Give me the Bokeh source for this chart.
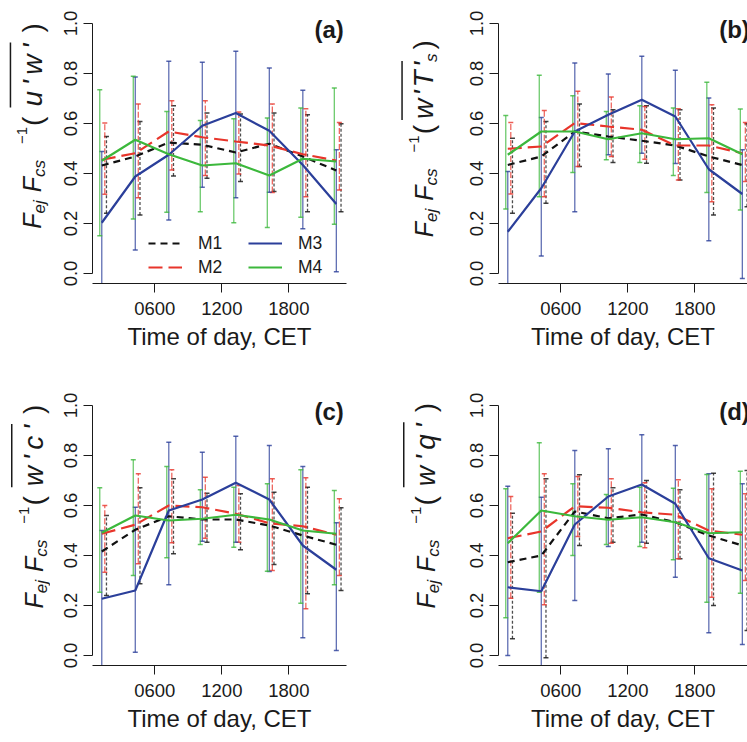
import math
from bokeh.plotting import figure
from bokeh.layouts import gridplot
from bokeh.models import (Label, Legend, LegendItem, BoxAnnotation, FixedTicker,
                          Range1d, ColumnDataSource)
from bokeh.embed import file_html
from bokeh.resources import INLINE

# ---------------- data ----------------
hours = [1.25, 4.25, 7.25, 10.25, 13.25, 16.25, 19.25, 22.25]
x_ticks = [6, 12, 18]
x_tick_labels = ["0600", "1200", "1800"]
y_ticks = [0.0, 0.2, 0.4, 0.6, 0.8, 1.0]
y_tick_labels = ["0.0", "0.2", "0.4", "0.6", "0.8", "1.0"]
model_names = ["M1", "M2", "M3", "M4"]
panel_tags = ["(a)", "(b)", "(c)", "(d)"]
x_title = "Time of day, CET"
flux_names = [("u'w'", None), ("w'T'", "s"), ("w'c'", None), ("w'q'", None)]

a_m1 = [0.432, 0.468, 0.524, 0.515, 0.484, 0.519, 0.468, 0.412]
a_m1_lo = [0.241, 0.234, 0.390, 0.381, 0.368, 0.328, 0.247, 0.247]
a_m1_hi = [0.548, 0.608, 0.671, 0.642, 0.638, 0.642, 0.635, 0.599]
a_m2 = [0.455, 0.481, 0.568, 0.545, 0.528, 0.512, 0.477, 0.452]
a_m2_lo = [0.317, 0.303, 0.414, 0.392, 0.398, 0.324, 0.307, 0.334]
a_m2_hi = [0.602, 0.678, 0.691, 0.691, 0.646, 0.678, 0.659, 0.604]
a_m3 = [0.203, 0.388, 0.475, 0.591, 0.642, 0.571, 0.434, 0.278]
a_m3_lo = [-0.08, 0.094, 0.214, 0.345, 0.303, 0.325, 0.179, 0.007]
a_m3_hi = [0.488, 0.786, 0.849, 0.845, 0.889, 0.822, 0.733, 0.495]
a_m4 = [0.451, 0.535, 0.477, 0.432, 0.441, 0.392, 0.459, 0.448]
a_m4_lo = [0.151, 0.218, 0.245, 0.247, 0.203, 0.184, 0.225, 0.197]
a_m4_hi = [0.735, 0.789, 0.648, 0.612, 0.619, 0.622, 0.662, 0.742]

b_m1 = [0.434, 0.468, 0.568, 0.548, 0.531, 0.512, 0.468, 0.434]
b_m1_lo = [0.241, 0.281, 0.428, 0.444, 0.441, 0.374, 0.234, 0.267]
b_m1_hi = [0.541, 0.608, 0.678, 0.655, 0.671, 0.655, 0.662, 0.599]
b_m2 = [0.499, 0.508, 0.602, 0.588, 0.575, 0.512, 0.512, 0.481]
b_m2_lo = [0.318, 0.307, 0.428, 0.468, 0.457, 0.374, 0.287, 0.368]
b_m2_hi = [0.604, 0.652, 0.729, 0.706, 0.668, 0.659, 0.675, 0.604]
b_m3 = [0.167, 0.341, 0.568, 0.635, 0.695, 0.628, 0.417, 0.318]
b_m3_lo = [-0.05, 0.070, 0.247, 0.475, 0.481, 0.440, 0.131, -0.02]
b_m3_hi = [0.408, 0.624, 0.842, 0.798, 0.869, 0.813, 0.702, 0.495]
b_m4 = [0.475, 0.568, 0.568, 0.537, 0.561, 0.537, 0.541, 0.477]
b_m4_lo = [0.258, 0.307, 0.404, 0.455, 0.444, 0.392, 0.324, 0.254]
b_m4_hi = [0.632, 0.793, 0.711, 0.648, 0.671, 0.662, 0.765, 0.658]

c_m1 = [0.416, 0.503, 0.557, 0.544, 0.544, 0.520, 0.480, 0.443]
c_m1_lo = [0.240, 0.287, 0.407, 0.453, 0.423, 0.364, 0.247, 0.260]
c_m1_hi = [0.560, 0.671, 0.707, 0.649, 0.647, 0.653, 0.673, 0.591]
c_m2 = [0.487, 0.523, 0.600, 0.593, 0.567, 0.529, 0.517, 0.483]
c_m2_lo = [0.333, 0.367, 0.451, 0.469, 0.453, 0.340, 0.187, 0.320]
c_m2_hi = [0.600, 0.727, 0.743, 0.713, 0.680, 0.707, 0.711, 0.627]
c_m3 = [0.227, 0.260, 0.580, 0.624, 0.691, 0.624, 0.440, 0.343]
c_m3_lo = [-0.06, 0.013, 0.283, 0.457, 0.453, 0.336, 0.071, 0.020]
c_m3_hi = [0.500, 0.593, 0.853, 0.813, 0.877, 0.840, 0.756, 0.531]
c_m4 = [0.491, 0.560, 0.540, 0.547, 0.563, 0.544, 0.500, 0.487]
c_m4_lo = [0.253, 0.320, 0.391, 0.444, 0.433, 0.337, 0.209, 0.283]
c_m4_hi = [0.671, 0.783, 0.756, 0.663, 0.673, 0.687, 0.743, 0.660]

d_m1 = [0.373, 0.400, 0.576, 0.549, 0.564, 0.533, 0.480, 0.440]
d_m1_lo = [0.067, -0.009, 0.440, 0.453, 0.449, 0.387, 0.200, 0.100]
d_m1_hi = [0.569, 0.707, 0.723, 0.671, 0.700, 0.663, 0.729, 0.740]
d_m2 = [0.469, 0.496, 0.597, 0.591, 0.573, 0.563, 0.500, 0.483]
d_m2_lo = [0.229, 0.203, 0.476, 0.449, 0.431, 0.387, 0.233, 0.300]
d_m2_hi = [0.636, 0.727, 0.716, 0.707, 0.691, 0.703, 0.667, 0.647]
d_m3 = [0.273, 0.257, 0.524, 0.636, 0.684, 0.607, 0.389, 0.340]
d_m3_lo = [0.000, -0.05, 0.220, 0.436, 0.453, 0.313, 0.091, 0.044]
d_m3_hi = [0.677, 0.633, 0.820, 0.827, 0.883, 0.840, 0.727, 0.687]
d_m4 = [0.449, 0.580, 0.557, 0.543, 0.553, 0.533, 0.489, 0.493]
d_m4_lo = [0.151, 0.253, 0.400, 0.444, 0.436, 0.383, 0.213, 0.249]
d_m4_hi = [0.667, 0.851, 0.687, 0.644, 0.673, 0.669, 0.724, 0.737]

# ---------------- styles / layout ----------------
FONT = "Liberation Sans"
TXT = "#1a1a1a"
STYLE = {
    "M1": dict(color="#111111", dash="7 5", bar_dash="3 2", dodge=0.42),
    "M2": dict(color="#e8352b", dash="14 6", bar_dash="6 2", dodge=0.27),
    "M3": dict(color="#2b3f9a", dash="solid", bar_dash="solid", dodge=0.0),
    "M4": dict(color="#3cb83c", dash="solid", bar_dash="solid", dodge=-0.18),
}
X0, X1 = 0.42, 23.16
FRAME_W, FRAME_H = 254, 270
TOP_H, BOT_H = 382, 360
BORDER_T = 13
LAB_A_W, MAIN_A_W, LAB_B_W, MAIN_B_W = 50, 300, 105, 292
MAIN_BL = {False: 42, True: 43}

WID = {"F": 611, "e": 556, "j": 222, "c": 500, "s": 500, "u": 556, "w": 722,
       "'": 191, "T": 611, "q": 556, "(": 333, ")": 333, "\u2212": 584, "1": 556, " ": 278}


def adv(t, size):
    return sum(WID.get(ch, 556) for ch in t) * size / 1000.0


def label_strip(width, height, bx, y_start, inner, inner_sub, gaps):
    """Strip figure holding the rotated y title.  Its frame is aligned with the panel
    frame (270 px high), so the y range is set in pixels measured from the frame bottom."""
    p = figure(width=width, height=height, x_range=Range1d(0, width),
               y_range=Range1d(0, FRAME_H), output_backend="svg", toolbar_location=None,
               x_axis_location=None, y_axis_location=None, min_border=0)
    p.outline_line_color = None
    p.grid.visible = False
    big, small, sup, paren, inner_size = 25, 17, 15, 28, 28
    sub_dx, sup_dx = 7.6, -10.0
    g_first, g_inner, g_close = gaps
    pieces = [
        ("F", 0, big, "italic", 0.0),
        ("ej", sub_dx, small, "italic", 0.0),
        ("F", 0, big, "italic", 8.0),
        ("cs", sub_dx, small, "italic", 0.0),
        ("\u22121", sup_dx, sup, "normal", 16.0),
        ("(", 0, paren, "normal", 1.0),
    ]
    for k, ch in enumerate(inner):
        pieces.append((ch, 0, inner_size, "italic", g_first if k == 0 else g_inner))
    if inner_sub:
        pieces.append((inner_sub, sub_dx, small, "italic", 0.0))
    pieces.append((")", 0, paren, "normal", g_close))
    y = y_start
    ol_start = ol_end = None
    for i, (txt, dx, size, style, gap) in enumerate(pieces):
        y += gap
        if i == 6:
            ol_start = y
        p.add_layout(Label(x=bx + dx, y=y, text=txt, angle=math.pi / 2, text_font=FONT,
                           text_font_size=f"{size}px", text_font_style=style, text_color=TXT,
                           text_baseline="alphabetic", text_align="left"))
        y += adv(txt, size)
        if i == 5 + len(inner):
            ol_end = y
    p.add_layout(BoxAnnotation(left=bx - 22.5, right=bx - 21, bottom=ol_start - 1,
                               top=ol_end + 1, fill_color=TXT, fill_alpha=1.0, line_color=None))
    return p


def make_panel(tag, series, right_col, bottom_row, legend=False):
    w = MAIN_B_W if right_col else MAIN_A_W
    h = BOT_H if bottom_row else TOP_H
    bl = MAIN_BL[right_col]
    fw = (w - bl) if right_col else FRAME_W
    x1 = X0 + (X1 - X0) * fw / FRAME_W
    p = figure(width=w, height=h, x_range=Range1d(X0, x1), y_range=Range1d(-0.04, 1.04),
               output_backend="svg", toolbar_location=None,
               min_border_left=bl, min_border_right=w - bl - fw,
               min_border_top=BORDER_T, min_border_bottom=h - BORDER_T - FRAME_H)
    p.outline_line_color = None
    p.grid.visible = False
    for ax in (p.xaxis[0], p.yaxis[0]):
        ax.axis_line_color = TXT
        ax.major_tick_line_color = TXT
        ax.minor_tick_line_color = None
        ax.major_tick_out = 9
        ax.major_tick_in = 0
        ax.major_label_text_font = FONT
        ax.major_label_text_font_size = "18.5px"
        ax.major_label_text_color = TXT
    p.xaxis.ticker = FixedTicker(ticks=x_ticks)
    p.xaxis.major_label_overrides = {t: l for t, l in zip(x_ticks, x_tick_labels)}
    p.xaxis.major_label_standoff = 9
    p.xaxis.axis_label = x_title
    p.xaxis.axis_label_text_font = FONT
    p.xaxis.axis_label_text_font_size = "24px"
    p.xaxis.axis_label_text_font_style = "normal"
    p.xaxis.axis_label_text_color = TXT
    p.xaxis.axis_label_standoff = 5
    p.yaxis.ticker = FixedTicker(ticks=y_ticks)
    p.yaxis.major_label_overrides = {t: l for t, l in zip(y_ticks, y_tick_labels)}
    p.yaxis.major_label_orientation = "vertical"
    p.yaxis.major_label_standoff = 7
    p.yaxis.bounds = (0, 1)

    renderers = {}
    for name in model_names:
        mean, lo, hi = series[name]
        st = STYLE[name]
        xb = [hh + st["dodge"] for hh in hours]
        src = ColumnDataSource(dict(x=xb, lo=lo, hi=hi))
        p.segment(x0="x", y0="lo", x1="x", y1="hi", source=src, line_color=st["color"],
                  line_width=1.3, line_alpha=0.75, line_dash=st["bar_dash"])
        for col in ("lo", "hi"):
            p.scatter(x="x", y=col, source=src, marker="dash", size=5, line_color=st["color"],
                      line_width=1.3, line_alpha=0.8)
    for name in model_names:
        mean, lo, hi = series[name]
        st = STYLE[name]
        renderers[name] = p.line(hours, mean, line_color=st["color"], line_width=2.2,
                                 line_dash=st["dash"])

    p.add_layout(Label(x=251.3, y=254.5, x_units="screen", y_units="screen", text=tag,
                       text_font=FONT, text_font_size="24px", text_font_style="bold",
                       text_color=TXT, text_align="right", text_baseline="alphabetic"))

    if legend:
        for names, lx in ((["M1", "M2"], 56), (["M3", "M4"], 156)):
            lg = Legend(items=[LegendItem(label=n, renderers=[renderers[n]]) for n in names],
                        location=(lx, 5.5), orientation="vertical",
                        glyph_width=34, glyph_height=18, label_height=18, spacing=3,
                        label_standoff=16, padding=0, margin=0,
                        border_line_color=None, background_fill_alpha=0,
                        label_text_font=FONT, label_text_font_size="17.5px",
                        label_text_color=TXT)
            p.add_layout(lg)
    return p


def pack(m1, m1l, m1h, m2, m2l, m2h, m3, m3l, m3h, m4, m4l, m4h):
    return {"M1": (m1, m1l, m1h), "M2": (m2, m2l, m2h), "M3": (m3, m3l, m3h),
            "M4": (m4, m4l, m4h)}


pa = make_panel(panel_tags[0], pack(a_m1, a_m1_lo, a_m1_hi, a_m2, a_m2_lo, a_m2_hi,
                                    a_m3, a_m3_lo, a_m3_hi, a_m4, a_m4_lo, a_m4_hi),
                False, False, legend=True)
pb = make_panel(panel_tags[1], pack(b_m1, b_m1_lo, b_m1_hi, b_m2, b_m2_lo, b_m2_hi,
                                    b_m3, b_m3_lo, b_m3_hi, b_m4, b_m4_lo, b_m4_hi),
                True, False)
pc = make_panel(panel_tags[2], pack(c_m1, c_m1_lo, c_m1_hi, c_m2, c_m2_lo, c_m2_hi,
                                    c_m3, c_m3_lo, c_m3_hi, c_m4, c_m4_lo, c_m4_hi),
                False, True)
pd = make_panel(panel_tags[3], pack(d_m1, d_m1_lo, d_m1_hi, d_m2, d_m2_lo, d_m2_hi,
                                    d_m3, d_m3_lo, d_m3_hi, d_m4, d_m4_lo, d_m4_hi),
                True, True)

# y-title strips: baseline x in the strip, start y in px above the frame bottom
FB_TOP, FB_BOT = BORDER_T + FRAME_H, TOP_H + BORDER_T + FRAME_H   # frame bottoms (page px)
WIDE, TIGHT = (10.0, 5.5, 11.0), (6.0, 3.0, 4.0)
la = label_strip(LAB_A_W, TOP_H, 31.7, FB_TOP - 228.3, *flux_names[0], WIDE)
lb = label_strip(LAB_B_W, TOP_H, 423.3 - 350, FB_TOP - 236.7, *flux_names[1], TIGHT)
lc = label_strip(LAB_A_W, BOT_H, 33.0, FB_BOT - 608.0, *flux_names[2], WIDE)
ld = label_strip(LAB_B_W, BOT_H, 425.0 - 350, FB_BOT - 608.0, *flux_names[3], WIDE)

grid = gridplot([[la, pa, lb, pb], [lc, pc, ld, pd]], toolbar_location=None)
open("out.html", "w").write(file_html(grid, INLINE))
